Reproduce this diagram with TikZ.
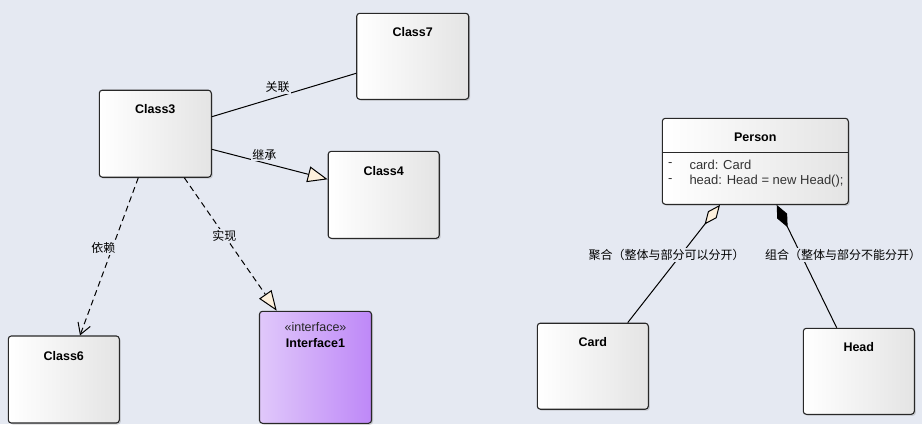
\documentclass[tikz,border=0pt]{standalone}
\usepackage{fontspec}
\setmainfont{Liberation Sans}
\newfontfamily\cjk{Noto Sans CJK SC}
\usetikzlibrary{arrows.meta,shadows}
\definecolor{bg}{RGB}{229,233,242}
\definecolor{boxr}{RGB}{228,228,228}
\definecolor{ifl}{RGB}{224,200,250}
\definecolor{ifr}{RGB}{190,136,248}
\definecolor{cream}{RGB}{253,240,220}
\definecolor{border}{RGB}{40,40,40}
\tikzset{
  cls/.style={draw=border, line width=1.1pt, rounded corners=3pt, left color=white, right color=boxr,
    drop shadow={shadow xshift=1.5pt, shadow yshift=-1.5pt, opacity=0.3}, inner sep=0pt},
  iface/.style={cls, left color=ifl, right color=ifr},
  title/.style={font=\fontsize{12.5}{14}\selectfont\bfseries, text=black, inner sep=0pt},
  attr/.style={font=\fontsize{13}{15}\selectfont, text=black!80, inner sep=0pt, anchor=west},
  lbl/.style={font=\cjk\fontsize{12}{14}\selectfont, fill=bg, inner sep=1pt},
  conn/.style={line width=1pt, black},
  dsh/.style={conn, dash pattern=on 6pt off 4pt},
}
\begin{document}
\begin{tikzpicture}[x=1pt, y=-1pt]
\fill[bg] (0,0) rectangle (922,424);
\useasboundingbox (0,0) rectangle (922,424);

% boxes
\node[cls, minimum width=112pt, minimum height=86pt] (c7) at (412.7,56.3) {};
\node[cls, minimum width=112pt, minimum height=87pt] (c3) at (155.3,133.7) {};
\node[cls, minimum width=111pt, minimum height=87pt] (c4) at (383.7,194.8) {};
\node[cls, minimum width=111pt, minimum height=87pt] (c6) at (63.8,379.5) {};
\node[iface, minimum width=112pt, minimum height=112pt] (if1) at (315.5,367.3) {};
\node[cls, minimum width=186pt, minimum height=86pt] (p) at (755.3,161.3) {};
\node[cls, minimum width=111pt, minimum height=86pt] (card) at (592.8,366.2) {};
\node[cls, minimum width=111pt, minimum height=86pt] (head) at (858.8,371.3) {};

% titles
\node[title] (t7) at (412.7,32) {Class7};
\node[title] (t3) at (155.3,109.5) {Class3};
\node[title] (t4) at (383.7,171) {Class4};
\node[title] (t6) at (63.8,356) {Class6};
\node[font=\fontsize{12.5}{14}\selectfont, inner sep=0pt, text=black!85] (st1) at (315.5,327.5) {«interface»};
\node[title] (tif1) at (315.5,343.5) {Interface1};
\node[title] (tp) at (755.3,137) {Person};
\node[title] (tcard) at (592.8,342) {Card};
\node[title] (thead) at (858.8,347.5) {Head};

% person compartment
\coordinate (sepl) at (p.west |- 0,152);
\coordinate (sepr) at (p.east |- 0,152);
\draw[border, line width=0.9pt] (sepl) -- (sepr);
\node[attr] (a1d) at (668,164.5) {-};
\node[attr] (a1) at (689.3,164.5) {card: Card};
\node[attr] (a2d) at (668,181) {-};
\node[attr] (a2) at (689.3,181) {head: Head = new Head();};

% connectors
\draw[conn] ([yshift=17pt]c3.east) -- ([yshift=-17pt]c7.west);
\draw[conn, -{Triangle[length=20pt, width=16pt, fill=cream]}] ([yshift=-15.6pt]c3.east) -- ([yshift=15.5pt]c4.west);
\draw[dsh, -{Straight Barb[length=11pt, width=13pt]}] ([xshift=-17pt]c3.south) -- ([xshift=16.2pt]c6.north);
\draw[dsh, -{Triangle[length=20pt, width=15pt, fill=cream]}] ([xshift=29pt]c3.south) -- ([xshift=-38.8pt]if1.north);
\draw[conn, {Diamond[length=25pt, width=11pt, fill=cream]}-] ([xshift=-35.3pt]p.south) -- ([xshift=34.9pt]card.north);
\draw[conn, {Diamond[length=25pt, width=11pt, fill=black]}-] ([xshift=21.4pt]p.south) -- ([xshift=-22.1pt]head.north);

% labels
\node[lbl] (l1) at (277.7,87) {关联};
\node[lbl] (l2) at (264.3,154.5) {继承};
\node[lbl] (l3) at (103.3,248) {依赖};
\node[lbl] (l4) at (224.3,236) {实现};
\node[lbl] (l5) at (666.5,255) {聚合（整体与部分可以分开）};
\node[lbl] (l6) at (843,255) {组合（整体与部分不能分开）};
\end{tikzpicture}
\end{document}
